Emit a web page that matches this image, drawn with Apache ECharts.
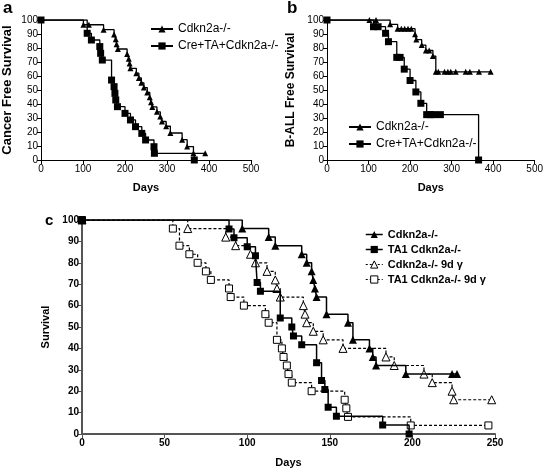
<!DOCTYPE html>
<html><head><meta charset="utf-8">
<script src="https://cdn.jsdelivr.net/npm/echarts@6/dist/echarts.min.js"></script>
<style>html,body{margin:0;padding:0;background:#fff}#c{width:546px;height:470px}</style>
</head><body><div id="c"></div>
<script>
// ---- Tick labels ----
const abXTicks = [0, 100, 200, 300, 400, 500];
const cXTicks = [0, 50, 100, 150, 200, 250];
const yTicks = [0, 10, 20, 30, 40, 50, 60, 70, 80, 90, 100];

// ---- Series names ----
const abNames = ['Cdkn2a-/-', 'Cre+TA+Cdkn2a-/-'];
const cNames = ['Cdkn2a-/-', 'TA1 Cdkn2a-/-', 'Cdkn2a-/- 9d γ', 'TA1 Cdkn2a-/- 9d γ'];

// ---- Panel a: [day, % survival] at each step ----
const aCdkn = [[0,100],[101,96.6],[114,96.6],[149,93.1],[174,89.6],[178,86.2],[180,82.7],[183,79.3],[205,75.8],[209,72.4],[211,69],[213,65.5],[227,62],[233,58.6],[239,55.1],[245,51.7],[253,48.2],[259,44.8],[262,41.3],[265,37.9],[276,34.4],[284,31],[288,27.5],[298,24.1],[308,19.3],[336,14.5],[348,9.6],[363,4.8],[391,4.8]];
const aCre = [[0,100],[110,90.5],[120,85.7],[140,81],[142,76.2],[146,71.4],[168,57.1],[174,52.4],[176,47.6],[178,42.9],[182,38.1],[200,33.3],[213,28.6],[225,23.8],[240,19],[249,14.3],[269,9.5],[270,4.8],[365,0]];

// ---- Panel b ----
const bCdkn = [[0,100],[102,100],[118,100],[152,96.9],[170,93.8],[179,93.8],[187,93.8],[195,93.8],[203,93.8],[212,89.9],[215,86],[228,82.1],[238,78.2],[246,78.2],[255,74.2],[262,63],[268,63],[283,63],[291,63],[298,63],[310,63],[334,63],[344,63],[366,63],[394,63]];
const bCre = [[0,100],[112,95.2],[123,95.2],[141,90.5],[148,84.5],[168,73.3],[176,73.3],[186,64.9],[200,56.8],[214,48.6],[226,40.5],[240,32.4],[249,32.4],[257,32.4],[273,32.4],[365,0]];

// ---- Panel c ----
const cCdkn = [[0,100],[97,96],[113,92],[117,88],[133,84],[136,80],[139,76],[140,72],[141,68],[142,64],[148,56],[161,52],[164,44],[174,40],[176,36],[178,32],[196,28],[224,28],[227,28]];
const cTA1 = [[0,100],[89,95.8],[92,91.7],[100,87.5],[105,83.3],[106,70.8],[108,66.7],[120,54.2],[127,50],[128,45.8],[133,41.7],[142,33.3],[145,25],[147,20.8],[149,12.5],[154,8.3],[182,4.2],[198,0]];
const cCdknG = [[0,100],[64,96],[87,92],[93,88],[102,84],[105,80],[112,76],[117,72],[118,68],[120,64],[134,60],[135,56],[136,52],[140,48],[146,44],[158,40],[184,36],[189,32],[207,28],[212,24],[224,20],[225,16],[248,16]];
const cTA1G = [[0,100],[55,96],[59,88],[65,84],[70,80],[75,76],[78,72],[89,68],[90,64],[98,60],[111,56],[113,52],[118,44],[121,40],[122,36],[124,32],[125,28],[127,24],[139,20],[159,16],[160,12],[161,8],[199,4],[246,4]];

const FONT = 'Liberation Sans, Arial, sans-serif';

function xAx(gi, ticks, name, gap, bold, lineColor, lineW) {
  return {
    type: 'value', gridIndex: gi, min: ticks[0], max: ticks[ticks.length-1],
    interval: ticks[1]-ticks[0],
    name: name, nameLocation: 'middle', nameGap: gap,
    nameTextStyle: {fontFamily: FONT, fontWeight: 'bold', fontSize: 11, color: '#000'},
    axisLine: {onZero: false, lineStyle: {color: lineColor, width: lineW}},
    axisTick: {show: true, length: 4, lineStyle: {color: lineColor, width: 1}},
    axisLabel: {fontFamily: FONT, fontSize: 10, color: '#000', margin: 4, fontWeight: bold ? 'bold' : 'normal'},
    splitLine: {show: false}
  };
}
function yAx(gi, name, gap, nameSize, bold, lineColor, lineW) {
  return {
    type: 'value', gridIndex: gi, min: yTicks[0], max: yTicks[yTicks.length-1],
    interval: yTicks[1]-yTicks[0],
    name: name, nameLocation: 'middle', nameGap: gap,
    nameTextStyle: {fontFamily: FONT, fontWeight: 'bold', fontSize: nameSize, color: '#000'},
    axisLine: {show: true, onZero: false, lineStyle: {color: lineColor, width: lineW}},
    axisTick: {show: true, length: 4, lineStyle: {color: lineColor, width: 1}},
    axisLabel: {fontFamily: FONT, fontSize: 10, color: '#000', margin: 3, fontWeight: bold ? 'bold' : 'normal'},
    splitLine: {show: false}
  };
}
function ser(name, data, gi, symbol, size, open, dashed, lw) {
  return {
    type: 'line', name: name, data: data, xAxisIndex: gi, yAxisIndex: gi,
    step: 'end', symbol: symbol, symbolSize: size, showAllSymbol: true,
    lineStyle: {color: '#000', width: lw, type: dashed ? [3, 2] : 'solid'},
    itemStyle: open ? {color: '#fff', borderColor: '#000', borderWidth: 1} : {color: '#000'},
    emphasis: {disabled: true}, z: dashed ? 2 : 3
  };
}

const chart = echarts.init(document.getElementById('c'), null, {renderer: 'canvas'});
chart.setOption({
  animation: false,
  backgroundColor: '#fff',
  grid: [
    {left: 40, top: 20, width: 211, height: 140},
    {left: 327, top: 20, width: 209, height: 140},
    {left: 82, top: 220, width: 413, height: 214}
  ],
  xAxis: [
    xAx(0, abXTicks, 'Days', 22, false, '#000', 1),
    xAx(1, abXTicks, 'Days', 22, false, '#000', 1),
    xAx(2, cXTicks, 'Days', 23, true, '#555', 2)
  ],
  yAxis: [
    yAx(0, 'Cancer Free Survival', 27, 13, false, '#000', 1),
    yAx(1, 'B-ALL Free Survival', 30, 12, false, '#000', 1),
    yAx(2, 'Survival', 27, 11, true, '#555', 2)
  ],
  legend: [
    {orient: 'vertical', left: 145, top: 18, itemWidth: 22, itemHeight: 9, itemGap: 5,
     data: [{name: abNames[0]}, {name: abNames[1]}],
     textStyle: {fontFamily: FONT, fontSize: 12, color: '#000'}, selectedMode: false},
    {orient: 'vertical', left: 343, top: 116, itemWidth: 22, itemHeight: 9, itemGap: 5,
     data: [{name: abNames[0]}, {name: abNames[1]}],
     textStyle: {fontFamily: FONT, fontSize: 12, color: '#000'}, selectedMode: false},
    {orient: 'vertical', left: 360, top: 224, itemWidth: 17, itemHeight: 9, itemGap: 4,
     data: [
       {name: cNames[0], itemStyle: {color: '#000'}, lineStyle: {width: 1.5}},
       {name: cNames[1], itemStyle: {color: '#000'}, lineStyle: {width: 1.5}},
       {name: cNames[2], itemStyle: {color: '#fff', borderColor: '#000', borderWidth: 1}, lineStyle: {type: [2, 2], width: 1.2}},
       {name: cNames[3], itemStyle: {color: '#fff', borderColor: '#000', borderWidth: 1}, lineStyle: {type: [2, 2], width: 1.2}}
     ],
     textStyle: {fontFamily: FONT, fontSize: 11, fontWeight: 'bold', color: '#000'}, selectedMode: false}
  ],
  graphic: [
    {type: 'text', left: 3, top: 0, style: {text: 'a', font: 'bold 17px ' + FONT, fill: '#000'}},
    {type: 'text', left: 287, top: 0, style: {text: 'b', font: 'bold 17px ' + FONT, fill: '#000'}},
    {type: 'text', left: 45, top: 213, style: {text: 'c', font: 'bold 15px ' + FONT, fill: '#000'}}
  ],
  series: [
    ser(abNames[1], aCre, 0, 'rect', 7, false, false, 1.3),
    ser(abNames[0], aCdkn, 0, 'triangle', 6, false, false, 1.3),
    ser(abNames[1], bCre, 1, 'rect', 7, false, false, 1.3),
    ser(abNames[0], bCdkn, 1, 'triangle', 6, false, false, 1.3),
    ser(cNames[3], cTA1G, 2, 'rect', 7, true, true, 1.2),
    ser(cNames[2], cCdknG, 2, 'triangle', 8, true, true, 1.2),
    ser(cNames[1], cTA1, 2, 'rect', 7, false, false, 1.5),
    ser(cNames[0], cCdkn, 2, 'triangle', 8, false, false, 1.5)
  ]
});
</script>
</body></html>
